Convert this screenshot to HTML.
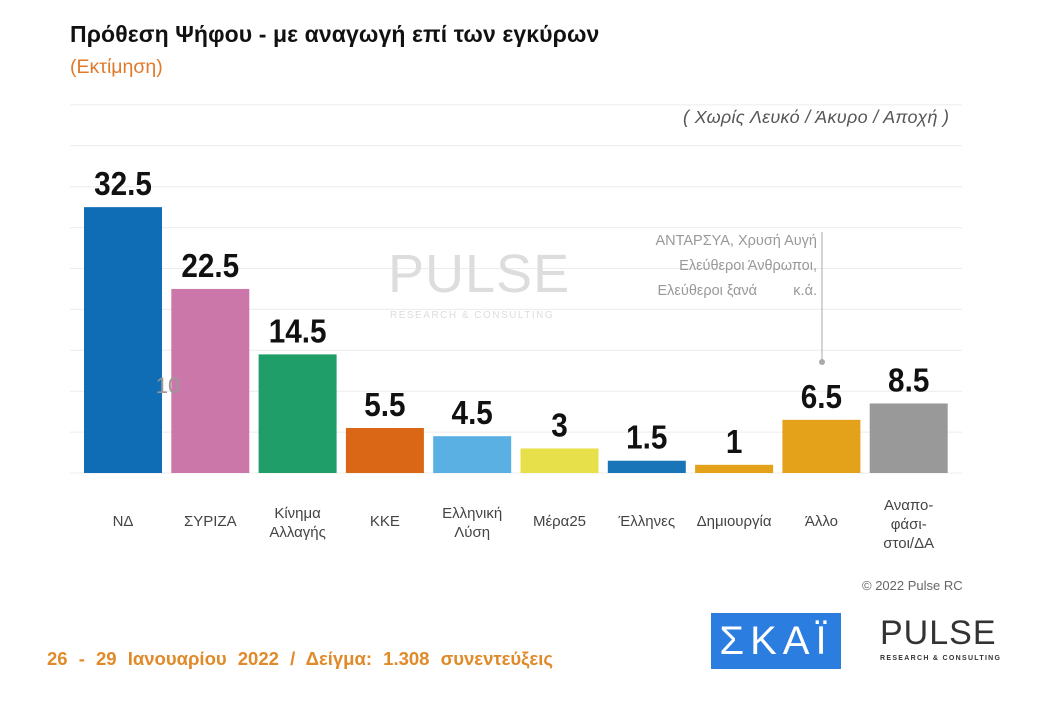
<!DOCTYPE html>
<html><head><meta charset="utf-8"><style>
body{margin:0;width:1042px;height:702px;background:#fff;font-family:"Liberation Sans","DejaVu Sans",sans-serif;overflow:hidden;position:relative}
.a{position:absolute}
</style></head><body>
<div class="a" style="left:70px;top:21px;font-size:23px;font-weight:bold;color:#111;letter-spacing:0.1px">Πρόθεση Ψήφου - με αναγωγή επί των εγκύρων</div>
<div class="a" style="left:70px;top:56px;font-size:19.5px;color:#e07a2a">(Εκτίμηση)</div>
<div class="a" style="left:683px;top:107px;font-size:18px;font-style:italic;color:#555;letter-spacing:0.3px">( Χωρίς Λευκό / Άκυρο / Αποχή )</div>
<svg class="a" style="left:0;top:0" width="1042" height="702" id="chart"></svg>
<div class="a" style="left:388px;top:243px;font-size:54px;color:#ddd;letter-spacing:1px;font-weight:300">PULSE</div>
<div class="a" style="left:390px;top:310px;font-size:10px;color:#ddd;letter-spacing:1.5px">RESEARCH &amp; CONSULTING</div>
<div class="a" style="left:590px;top:229px;width:227px;text-align:right;font-size:14.5px;line-height:25px;color:#999">ΑΝΤΑΡΣΥΑ, Χρυσή Αυγή<br>Ελεύθεροι Άνθρωποι,<br>Ελεύθεροι ξανά &nbsp;&nbsp;&nbsp;&nbsp;&nbsp;&nbsp;&nbsp; κ.ά.</div>
<div class="a" style="left:862px;top:578px;font-size:13px;color:#666">© 2022 Pulse RC</div>
<div class="a" style="left:47px;top:648px;font-size:18.5px;font-weight:bold;color:#e08a2a;word-spacing:6px">26 - 29 Ιανουαρίου 2022 / Δείγμα: 1.308 συνεντεύξεις</div>
<div class="a" style="left:711px;top:613px;width:130px;height:56px;background:#2b7de0;color:#fff;font-size:40px;text-align:center;line-height:56px;letter-spacing:6px">ΣΚΑΪ</div>
<div class="a" style="left:880px;top:614px;font-size:34px;color:#333;letter-spacing:1px">PULSE</div>
<div class="a" style="left:880px;top:655px;font-size:7px;color:#333;letter-spacing:1.3px;font-weight:bold">RESEARCH &amp; CONSULTING</div>
<script>
const categories=["ΝΔ","ΣΥΡΙΖΑ","Κίνημα|Αλλαγής","ΚΚΕ","Ελληνική|Λύση","Μέρα25","Έλληνες","Δημιουργία","Άλλο","Αναπο-|φάσι-|στοι/ΔΑ"];
const values=[32.5,22.5,14.5,5.5,4.5,3,1.5,1,6.5,8.5];
const labels=["32.5","22.5","14.5","5.5","4.5","3","1.5","1","6.5","8.5"];
const colors=["#0f6db5","#cc77aa","#1f9e6a","#d96716","#5aafe3","#e8e04a","#1a75b8","#e4a21a","#e4a21a","#999999"];
const gridTicks=[0,5,10,15,20,25,30,35,40,45];
const svg=document.getElementById('chart');
const NS='http://www.w3.org/2000/svg';
const base=473,ppu=8.18,x0=84,step=87.3,bw=78;
const y=v=>base-v*ppu, x=i=>x0+i*step;
gridTicks.forEach(t=>{const l=document.createElementNS(NS,'line');


l.setAttribute('x1',70);l.setAttribute('x2',962);l.setAttribute('y1',y(t));l.setAttribute('y2',y(t));
l.setAttribute('stroke','#ececec');l.setAttribute('stroke-width',1);svg.appendChild(l);});
categories.forEach((c,i)=>{
const r=document.createElementNS(NS,'rect');


r.setAttribute('x',x(i));r.setAttribute('y',y(values[i]));r.setAttribute('width',bw);r.setAttribute('height',values[i]*ppu);r.setAttribute('fill',colors[i]);svg.appendChild(r);
const t=document.createElementNS(NS,'text');


t.setAttribute('x',x(i)+bw/2);t.setAttribute('y',y(values[i])-12);t.setAttribute('text-anchor','middle');
t.setAttribute('font-size',33);t.setAttribute('font-weight','bold');t.setAttribute('fill','#111');
t.setAttribute('transform','translate('+(x(i)+bw/2)+',0) scale(0.9,1) translate('+(-(x(i)+bw/2))+',0)');
t.textContent=labels[i];svg.appendChild(t);
const lines=c.split('|');
lines.forEach((ln,k)=>{const tt=document.createElementNS(NS,'text');


tt.setAttribute('x',x(i)+bw/2);tt.setAttribute('y',526-(lines.length-1)*8+k*19);tt.setAttribute('text-anchor','middle');
tt.setAttribute('font-size',15);tt.setAttribute('fill','#444');tt.textContent=ln;svg.appendChild(tt);});
});
const ln=document.createElementNS(NS,'line');


ln.setAttribute('x1',822);ln.setAttribute('x2',822);ln.setAttribute('y1',232);ln.setAttribute('y2',362);ln.setAttribute('stroke','#aaa');svg.appendChild(ln);
const dot=document.createElementNS(NS,'circle');


dot.setAttribute('cx',822);dot.setAttribute('cy',362);dot.setAttribute('r',3);dot.setAttribute('fill','#aaa');svg.appendChild(dot);
const ten=document.createElementNS(NS,'text');


ten.setAttribute('x',168);ten.setAttribute('y',393);ten.setAttribute('text-anchor','middle');ten.setAttribute('font-size',22);ten.setAttribute('fill','#999');ten.textContent='10';svg.appendChild(ten);
</script>
</body></html>
